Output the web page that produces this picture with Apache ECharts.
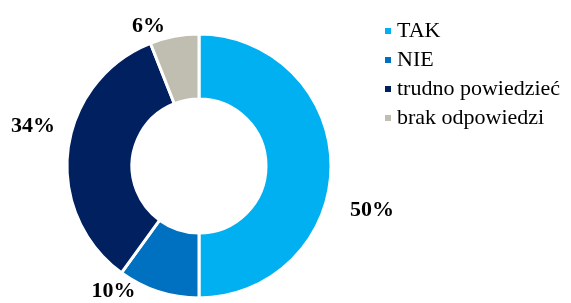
<!DOCTYPE html>
<html>
<head>
<meta charset="utf-8">
<script src="https://cdn.jsdelivr.net/npm/echarts@6/dist/echarts.min.js"></script>
<style>
    html, body { margin: 0; padding: 0; background: #fff; }
    #chart { width: 571px; height: 303px; }
</style>
</head>
<body>
<div id="chart"></div>
<script>
// dane wykresu
var categories = ['TAK', 'NIE', 'trudno powiedzieć', 'brak odpowiedzi']
var values = [50, 10, 34, 6]
var colors = ['#00B0F0', '#0070C0', '#002060', '#C0BEB0']
// przesunięcie etykiet (jak w oryginale)
var labelOffsets = [[-2, 44], [-10, 4], [2, -16], [2, 2]]

var chart = echarts.init(document.getElementById('chart'))

var seriesData = []
for (var i = 0; i < categories.length; i++) {
    seriesData.push({
        name: categories[i],
        value: values[i],
        itemStyle: { color: colors[i] },
        label: { offset: labelOffsets[i] }
    })
}

var option = {
    animation: false,
    legend: {
        orient: 'vertical',
        left: 378,
        top: 15,
        itemWidth: 8,
        itemHeight: 8,
        itemGap: 7,
        icon: 'rect',
        textStyle: {
            fontFamily: 'Liberation Serif',
            fontSize: 22,
            color: '#000'
        },
        data: categories
    },
    series: [
        {
            type: 'pie',
            center: [199, 166],
            radius: [67, 132],
            startAngle: 90,
            clockwise: true,
            itemStyle: { borderColor: '#fff', borderWidth: 3 },
            label: {
                show: true,
                position: 'outside',
                formatter: '{c}%',
                overflow: 'none',
                fontFamily: 'Liberation Serif',
                fontWeight: 'bold',
                fontSize: 22,
                color: '#000'
            },
            labelLine: { show: false, length: 12, length2: 4 },
            data: seriesData
        }
    ]
}

chart.setOption(option)
</script>
</body>
</html>
